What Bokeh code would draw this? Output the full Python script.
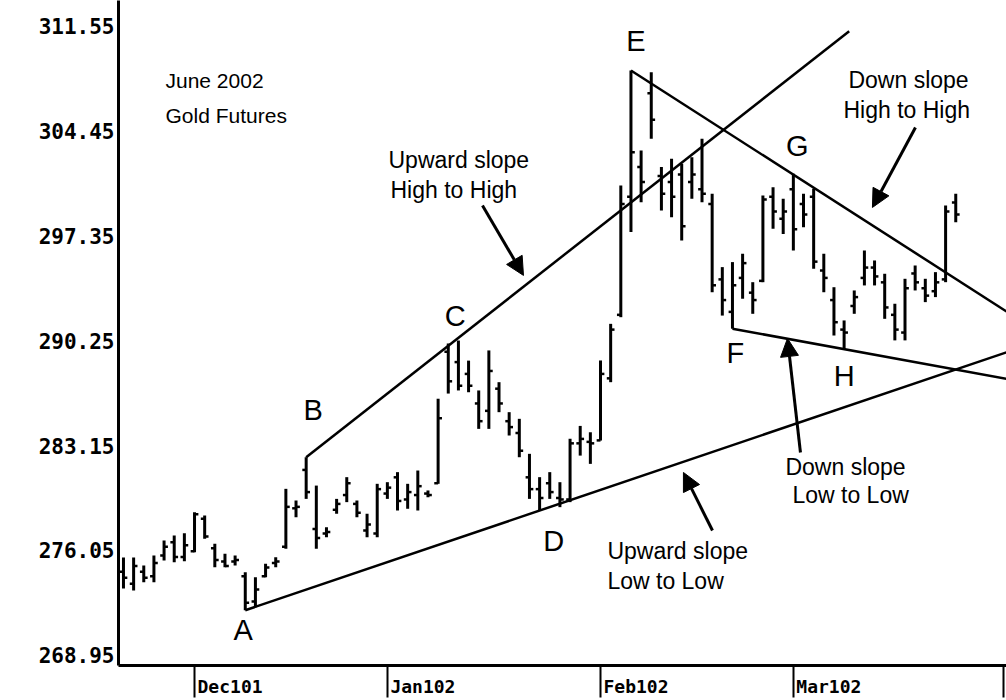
from bokeh.plotting import figure
from bokeh.models import FixedTicker, PrintfTickFormatter, Arrow, NormalHead, ColumnDataSource
from bokeh.core.properties import value
from bokeh.embed import file_html
from bokeh.resources import INLINE

# ---- data: June 2002 Gold futures, daily bars (trading-day index) ----
highs = [275.57, 275.57, 275.03, 275.71, 276.72, 277.06, 277.22, 278.64, 278.41, 276.50,
         275.82, 275.71, 274.58, 274.24, 275.14, 275.59, 280.22, 279.43, 282.36, 280.44,
         277.62, 279.54, 281.01, 279.43, 278.53, 280.56, 280.67, 281.35, 280.56, 281.46,
         280.11, 286.32, 290.06, 290.26, 288.90, 286.88, 289.59, 287.44, 285.41, 284.96,
         282.59, 281.01, 281.35, 280.67, 283.61, 284.48, 284.05, 288.91, 291.39, 300.76,
         308.54, 303.13, 308.43, 302.00, 302.56, 302.22, 302.67, 303.92, 300.19, 295.23,
         295.57, 296.13, 294.21, 300.08, 300.64, 299.86, 301.55, 300.19, 300.53, 296.13,
         293.87, 291.62, 293.65, 296.36, 295.68, 294.78, 292.75, 294.44, 295.34, 294.44,
         294.89, 299.40, 300.19]
lows = [273.47, 273.34, 273.90, 273.90, 275.37, 275.25, 275.32, 275.93, 276.84, 274.91,
        274.91, 275.03, 272.00, 272.21, 274.24, 274.91, 276.16, 278.30, 279.54, 276.16,
        276.95, 278.53, 279.32, 278.30, 276.95, 276.95, 279.54, 278.75, 278.87, 278.75,
        279.65, 280.56, 286.67, 286.88, 286.76, 284.28, 284.28, 285.41, 283.83, 282.36,
        279.54, 278.75, 279.54, 278.98, 279.32, 282.47, 281.91, 283.49, 287.44, 291.84,
        297.60, 299.63, 303.92, 299.07, 298.61, 297.03, 299.86, 299.63, 293.53, 291.95,
        291.06, 293.09, 292.07, 294.21, 297.82, 297.48, 296.36, 297.93, 295.12, 293.53,
        290.60, 289.70, 292.07, 293.99, 293.99, 291.73, 290.27, 290.27, 293.65, 292.86,
        293.20, 294.21, 298.27]
opens = [274.6, 273.8, 274.6, 274.3, 275.7, 276.6, 275.6, 276.0, 278.2, 276.2,
         275.3, 275.3, 274.3, 272.6, 274.3, 275.2, 276.3, 278.9, 281.5, 277.5,
         277.2, 278.8, 279.8, 279.2, 277.4, 277.2, 279.9, 281.0, 279.5, 279.8,
         279.9, 280.6, 289.5, 288.8, 288.0, 286.0, 285.5, 287.0, 284.8, 284.0,
         281.0, 280.2, 280.6, 279.6, 279.5, 283.3, 283.4, 283.5, 287.7, 292.0,
         300.0, 302.0, 307.0, 301.4, 301.0, 301.5, 301.0, 300.5, 299.5, 294.4,
         292.2, 294.5, 293.5, 294.3, 300.0, 298.5, 300.5, 299.5, 300.0, 295.0,
         293.0, 291.0, 292.6, 294.5, 295.2, 294.2, 292.0, 290.8, 294.8, 293.8,
         293.6, 294.4, 299.6]
closes = [274.2, 275.0, 274.2, 275.2, 276.3, 275.6, 276.4, 278.5, 277.0, 275.4,
          275.0, 275.4, 272.5, 273.4, 274.9, 275.3, 279.0, 279.0, 280.0, 276.9,
          277.3, 279.2, 280.6, 278.6, 277.8, 280.2, 280.3, 279.4, 280.0, 280.4,
          279.8, 285.0, 287.5, 287.2, 287.2, 284.8, 288.2, 286.0, 284.4, 282.8,
          280.2, 279.6, 280.0, 279.5, 283.3, 283.6, 283.3, 288.0, 291.0, 299.5,
          303.0, 301.0, 305.2, 300.2, 300.0, 298.0, 301.5, 300.2, 294.0, 293.0,
          294.0, 295.5, 293.0, 299.8, 299.0, 299.0, 297.8, 298.8, 295.6, 294.5,
          291.5, 290.8, 293.2, 295.2, 294.6, 292.5, 291.0, 293.8, 294.2, 293.3,
          294.2, 299.0, 298.8]

month_labels = ["Dec101", "Jan102", "Feb102", "Mar102"]
month_start = [7, 26, 47, 66, 86.7]
y_ticks = [268.95, 276.05, 283.15, 290.25, 297.35, 304.45, 311.55]

# pivot letters: bar index and whether they mark the high or the low
pivot_names = ["A", "B", "C", "D", "E", "F", "G", "H"]
pivot_bar = [12, 18, 32, 41, 50, 60, 66, 71]
pivot_side = ["low", "high", "high", "low", "high", "low", "high", "low"]

# trend lines (start / end in bar index and price)
trend_x = [[18, 71.5], [50, 87.0], [60, 87.0], [12, 87.0]]
trend_y = [[282.36, 311.20], [308.54, 292.23], [291.06, 287.67], [272.00, 289.46]]

# ---- figure ----
p = figure(width=1006, height=700, x_range=(-0.49, 87.0), y_range=(268.26, 313.28),
           output_backend="svg", toolbar_location=None,
           min_border_left=118, min_border_right=0, min_border_top=0, min_border_bottom=35)
p.outline_line_color = None
p.xgrid.visible = False
p.ygrid.visible = False
p.background_fill_color = "white"
p.border_fill_color = "white"

xs = list(range(len(highs)))
src = ColumnDataSource(dict(x=xs, h=highs, l=lows, o=opens, c=closes,
                            xo=[x - 0.38 for x in xs], xc=[x + 0.38 for x in xs]))
p.segment(x0="x", y0="l", x1="x", y1="h", source=src, line_color="black", line_width=3)
p.segment(x0="xo", y0="o", x1="x", y1="o", source=src, line_color="black", line_width=2.5)
p.segment(x0="x", y0="c", x1="xc", y1="c", source=src, line_color="black", line_width=2.5)

p.multi_line(trend_x, trend_y, line_color="black", line_width=2.5)

# pivot letters
dx = [-2, 7, 7, 14, 5, 3, 4, 0]
dy = [20, -47, -27, 30, -30, 24, -28, 27]
py = [lows[b] if s == "low" else highs[b] for b, s in zip(pivot_bar, pivot_side)]
p.text(x=pivot_bar, y=py, text=pivot_names, x_offset=dx, y_offset=dy,
       text_font=value("Liberation Sans"), text_font_size="29px", text_color="black",
       text_align="center", text_baseline="middle")

# title text
p.text(x=[4.14, 4.14], y=[307.87, 305.50], text=["June 2002", "Gold Futures"],
       text_font=value("Liberation Sans"), text_font_size="21px", text_color="black",
       text_align="left", text_baseline="middle")

# trend-line annotation texts
ann_text = ["Upward slope", "High to High", "Down slope", "High to High",
            "Down slope", "Low to Low", "Upward slope", "Low to Low"]
ann_x = [26.11, 26.31, 71.43, 70.94, 65.22, 65.91, 47.68, 47.68]
ann_y = [302.45, 300.42, 307.93, 305.90, 281.73, 279.77, 275.98, 273.95]
p.text(x=ann_x, y=ann_y, text=ann_text, text_font=value("Liberation Sans"),
       text_font_size="23px", text_color="black", text_align="left", text_baseline="middle")

# arrows
arrows = [((35.37, 299.40), (39.41, 294.67)),
          ((78.03, 304.68), (73.79, 299.27)),
          ((66.70, 282.68), (65.42, 290.40)),
          ((58.03, 277.40), (55.17, 281.33))]
for (xs0, ys0), (xe, ye) in arrows:
    p.add_layout(Arrow(end=NormalHead(size=18, fill_color="black", line_color="black"),
                       x_start=xs0, y_start=ys0, x_end=xe, y_end=ye,
                       line_color="black", line_width=3))

# y axis
p.yaxis.ticker = FixedTicker(ticks=y_ticks)
p.yaxis.formatter = PrintfTickFormatter(format="%.2f")
p.yaxis.axis_line_width = 3
p.yaxis.axis_line_color = "black"
p.yaxis.major_tick_out = 0
p.yaxis.major_tick_in = 0
p.yaxis.minor_tick_out = 0
p.yaxis.minor_tick_in = 0
p.yaxis.major_label_standoff = 4
p.yaxis.major_label_text_font = "DejaVu Sans Mono"
p.yaxis.major_label_text_font_style = "bold"
p.yaxis.major_label_text_font_size = "21px"
p.yaxis.major_label_text_color = "black"

# x axis: labels to the right of month separators
label_pos = [m + 3.5 for m in month_start[:4]]
p.xaxis.ticker = FixedTicker(ticks=label_pos, minor_ticks=month_start)
p.xaxis.major_label_overrides = {lp: lab for lp, lab in zip(label_pos, month_labels)}
p.xaxis.axis_line_width = 3
p.xaxis.axis_line_color = "black"
p.xaxis.major_tick_out = 0
p.xaxis.major_tick_in = 0
p.xaxis.minor_tick_out = 32
p.xaxis.minor_tick_in = 0
p.xaxis.minor_tick_line_width = 2
p.xaxis.minor_tick_line_color = "black"
p.xaxis.major_label_standoff = -22
p.xaxis.major_label_text_font = "DejaVu Sans Mono"
p.xaxis.major_label_text_font_style = "bold"
p.xaxis.major_label_text_font_size = "18px"
p.xaxis.major_label_text_color = "black"

open("out.html", "w").write(file_html(p, INLINE))
